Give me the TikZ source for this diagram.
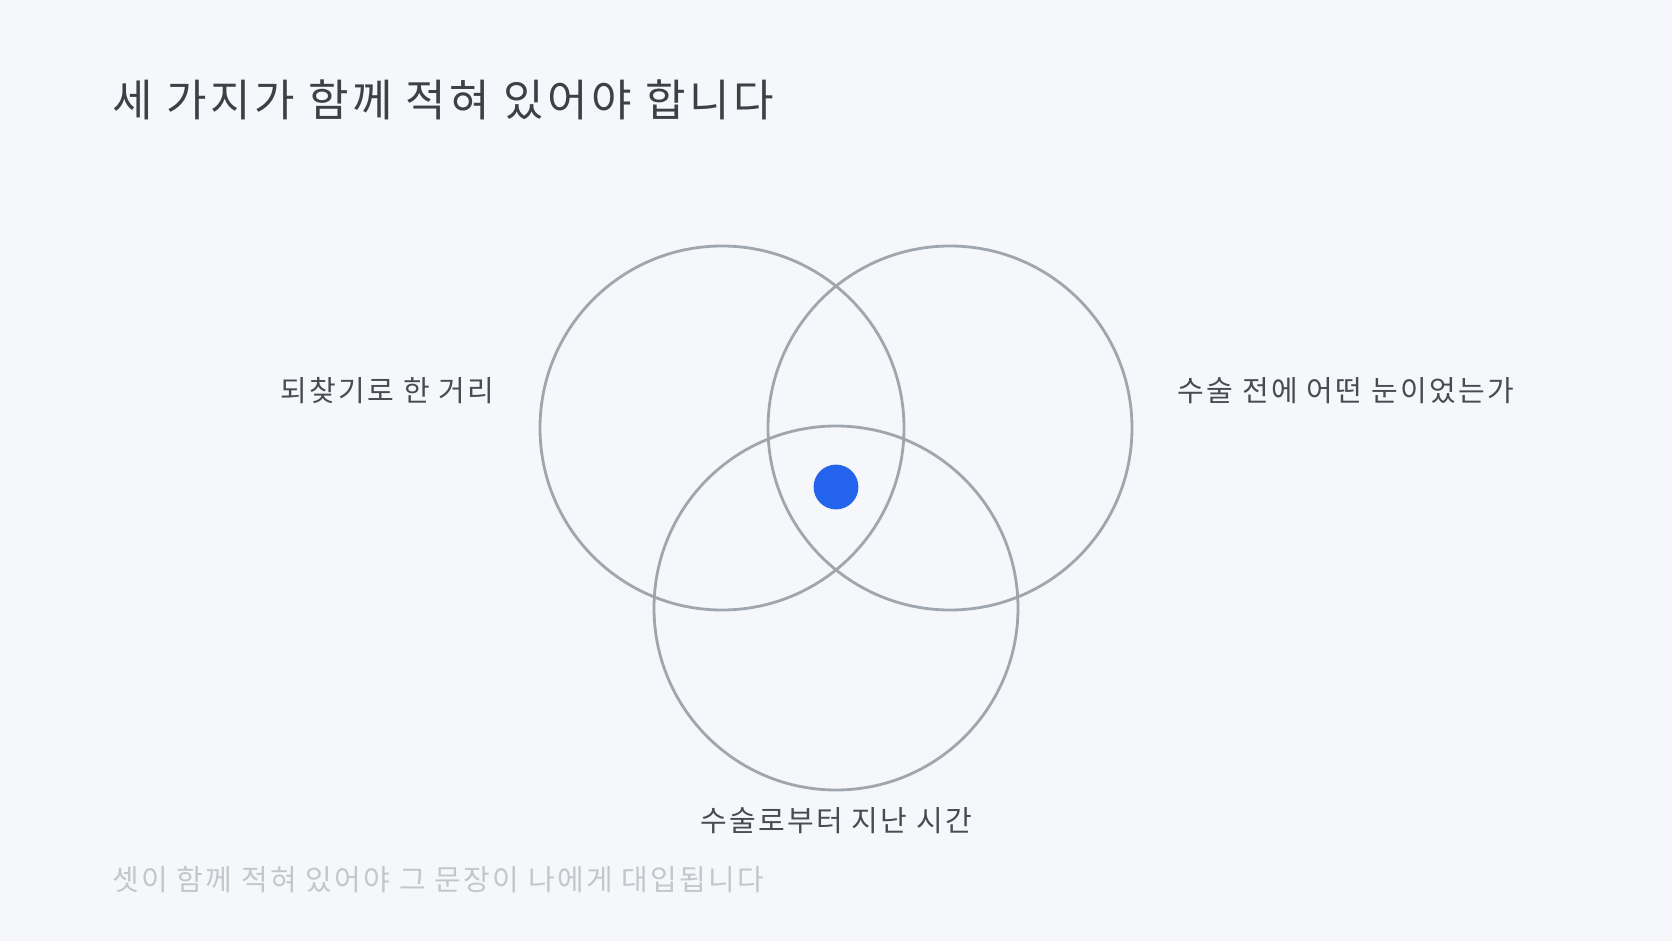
\documentclass[tikz,border=0pt]{standalone}
\usepackage{fontspec}
\setmainfont[LetterSpace=8]{Noto Sans CJK KR}
\usepackage{xcolor}
\usetikzlibrary{positioning}

\definecolor{bgcol}{HTML}{F5F7FA}
\definecolor{ringgray}{HTML}{A0A6AD}
\definecolor{titlegray}{HTML}{3C4148}
\definecolor{labelgray}{HTML}{474C53}
\definecolor{notegray}{HTML}{C3C7CC}
\definecolor{dotblue}{HTML}{2463EB}

\begin{document}
\begin{tikzpicture}[x=0.5pt,y=-0.5pt,every node/.append style={inner sep=0pt},
  ring/.style={circle, draw=ringgray, line width=1.4pt, minimum size=182pt},
  lbl/.style={text=labelgray, font=\fontsize{14.5}{17}\selectfont},
  hit/.style={circle, fill=dotblue, minimum size=22.4pt}]
    \fill[bgcol] (0,0) rectangle (1672,941);
    \node [anchor=west, text=titlegray, font=\fontsize{22}{26}\selectfont] (title) at (112,100) {세 가지가 함께 적혀 있어야 합니다};
    \node [ring] (dist)   at (722,428) {};
    \node [ring] (before) at (950,428) {};
    \node [ring] (time)   at (836,608) {};
    \node [hit] (me) at (836,487) {};
    \node [lbl, left=22pt of dist, yshift=18.5pt]    (distlbl)   {되찾기로 한 거리};
    \node [lbl, right=22pt of before, yshift=18.5pt] (beforelbl) {수술 전에 어떤 눈이었는가};
    \node [lbl, below=8pt of time]   (timelbl)   {수술로부터 지난 시간};
    \node [anchor=west, text=notegray, font=\fontsize{14.5}{17}\selectfont] (note) at (112,880) {셋이 함께 적혀 있어야 그 문장이 나에게 대입됩니다};
\end{tikzpicture}
\end{document}
